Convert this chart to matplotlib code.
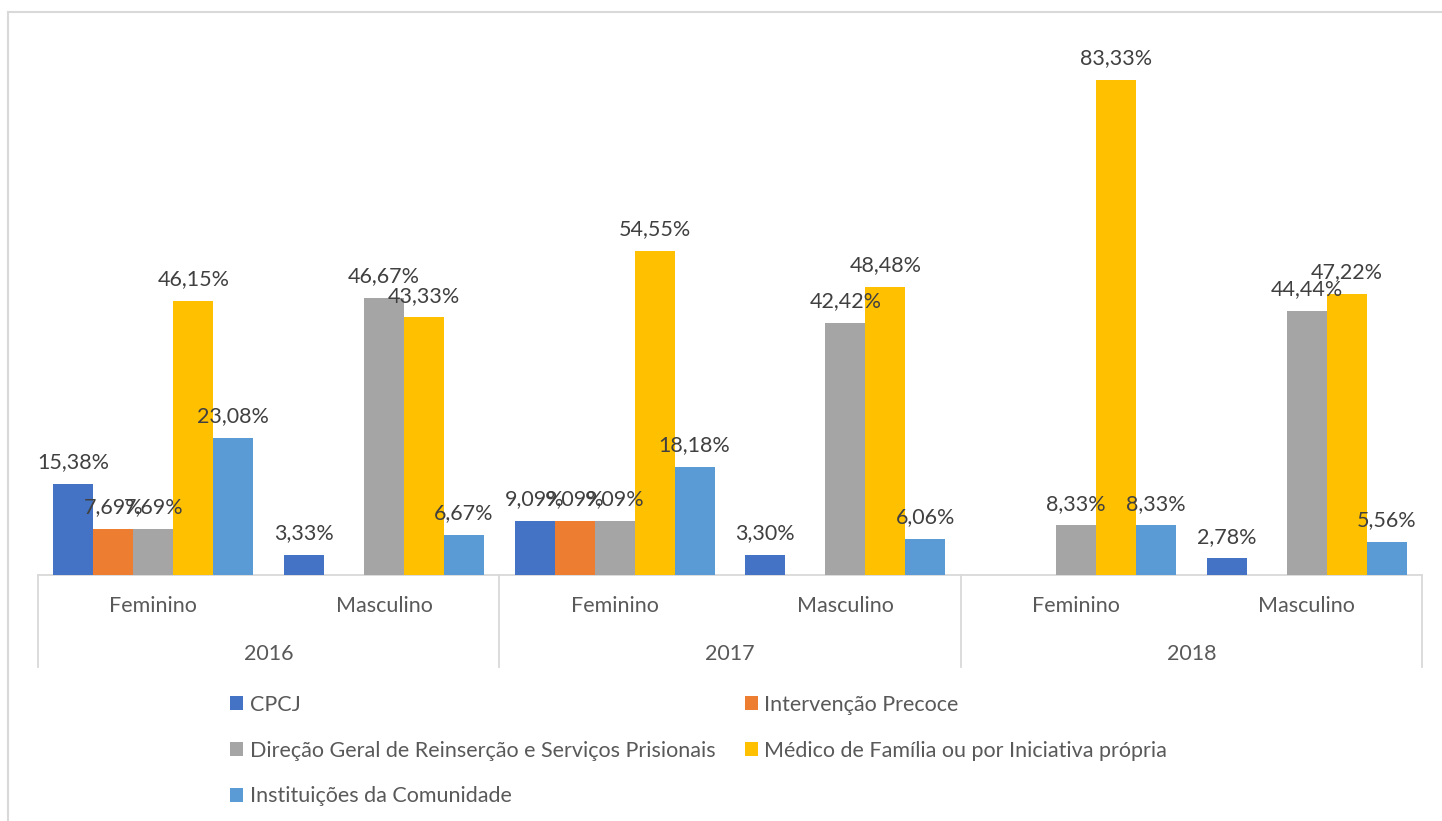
import matplotlib
matplotlib.use("Agg")
import matplotlib.pyplot as plt
import numpy as np
from matplotlib.patches import Patch
from matplotlib.lines import Line2D

plt.rcParams['font.family'] = ['Lato', 'DejaVu Sans']

years = ["2016", "2017", "2018"]
sexes = ["Feminino", "Masculino"]
series_names = ["CPCJ", "Intervenção Precoce",
                "Direção Geral de Reinserção e Serviços Prisionais",
                "Médico de Família ou por Iniciativa própria",
                "Instituições da Comunidade"]
colors = ["#4472C4", "#ED7D31", "#A5A5A5", "#FFC000", "#5B9BD5"]

# values per category: 2016F, 2016M, 2017F, 2017M, 2018F, 2018M
cpcj = [15.38, 3.33, 9.09, 3.30, 0, 2.78]
intervencao = [7.69, 0, 9.09, 0, 0, 0]
dgrsp = [7.69, 46.67, 9.09, 42.42, 8.33, 44.44]
medico = [46.15, 43.33, 54.55, 48.48, 83.33, 47.22]
instituicoes = [23.08, 6.67, 18.18, 6.06, 8.33, 5.56]
series = [cpcj, intervencao, dgrsp, medico, instituicoes]

FS = 15.5
W, H = 1442, 821
fig = plt.figure(figsize=(W / 100, H / 100), dpi=100)
ax_left, ax_right, ax_bottom, ax_top = 38, 1422, 575, 40
ax = fig.add_axes([ax_left / W, 1 - ax_bottom / H, (ax_right - ax_left) / W, (ax_bottom - ax_top) / H])

ncat = len(cpcj)
x = np.arange(ncat)
bw = 40 / ((ax_right - ax_left) / ncat)
txt_col = "#404040"
for i, (vals, c) in enumerate(zip(series, colors)):
    xs = x + (i - 2) * bw
    ax.bar(xs, vals, width=bw, color=c, zorder=2)
    for xi, v in zip(xs, vals):
        if v > 0:
            ax.annotate(f"{v:.2f}%".replace(".", ","), (xi, v), xytext=(0, 8.5),
                        textcoords="offset points", ha="center", va="bottom",
                        fontsize=FS, color=txt_col, zorder=3)

ax.set_xlim(-0.5, ncat - 0.5)
ax.set_ylim(0, 90)
ax.axis("off")

grid_col = "#D9D9D9"
ax.plot([-0.5, ncat - 0.5], [0, 0], color=grid_col, lw=1.3, zorder=1, clip_on=False)
trans = ax.get_xaxis_transform()
axh = ax_bottom - ax_top
ybot = -(667 - ax_bottom) / axh
for b in [-0.5, 1.5, 3.5, 5.5]:
    ax.add_line(Line2D([b, b], [0, ybot], transform=trans, color=grid_col, lw=1.3, clip_on=False))

lab_col = "#595959"
for k in range(ncat):
    ax.text(k, -(606 - ax_bottom) / axh, sexes[k % 2], transform=trans, ha="center", va="center",
            fontsize=FS, color=lab_col)
for j, yr in enumerate(years):
    ax.text(2 * j + 0.5, -(654 - ax_bottom) / axh, yr, transform=trans, ha="center", va="center",
            fontsize=FS, color=lab_col)

# chart border (top and left visible)
fig.add_artist(Line2D([8 / W, 8 / W], [0, 1 - 12 / H], color=grid_col, lw=1.5))
fig.add_artist(Line2D([8 / W, 1], [1 - 12 / H, 1 - 12 / H], color=grid_col, lw=1.5))

handles = [Patch(facecolor=c, label=n) for c, n in zip(colors, series_names)]
order = [0, 2, 4, 1, 3]
fig.legend([handles[i] for i in order], [series_names[i] for i in order],
           ncol=2, loc="upper left", bbox_to_anchor=(219 / W, 1 - 684 / H),
           frameon=False, fontsize=FS, labelcolor=lab_col,
           handlelength=0.62, handleheight=0.62, handletextpad=0.3,
           columnspacing=1.37, labelspacing=1.2, borderpad=0)

fig.savefig("out.png", dpi=100, facecolor="white")
